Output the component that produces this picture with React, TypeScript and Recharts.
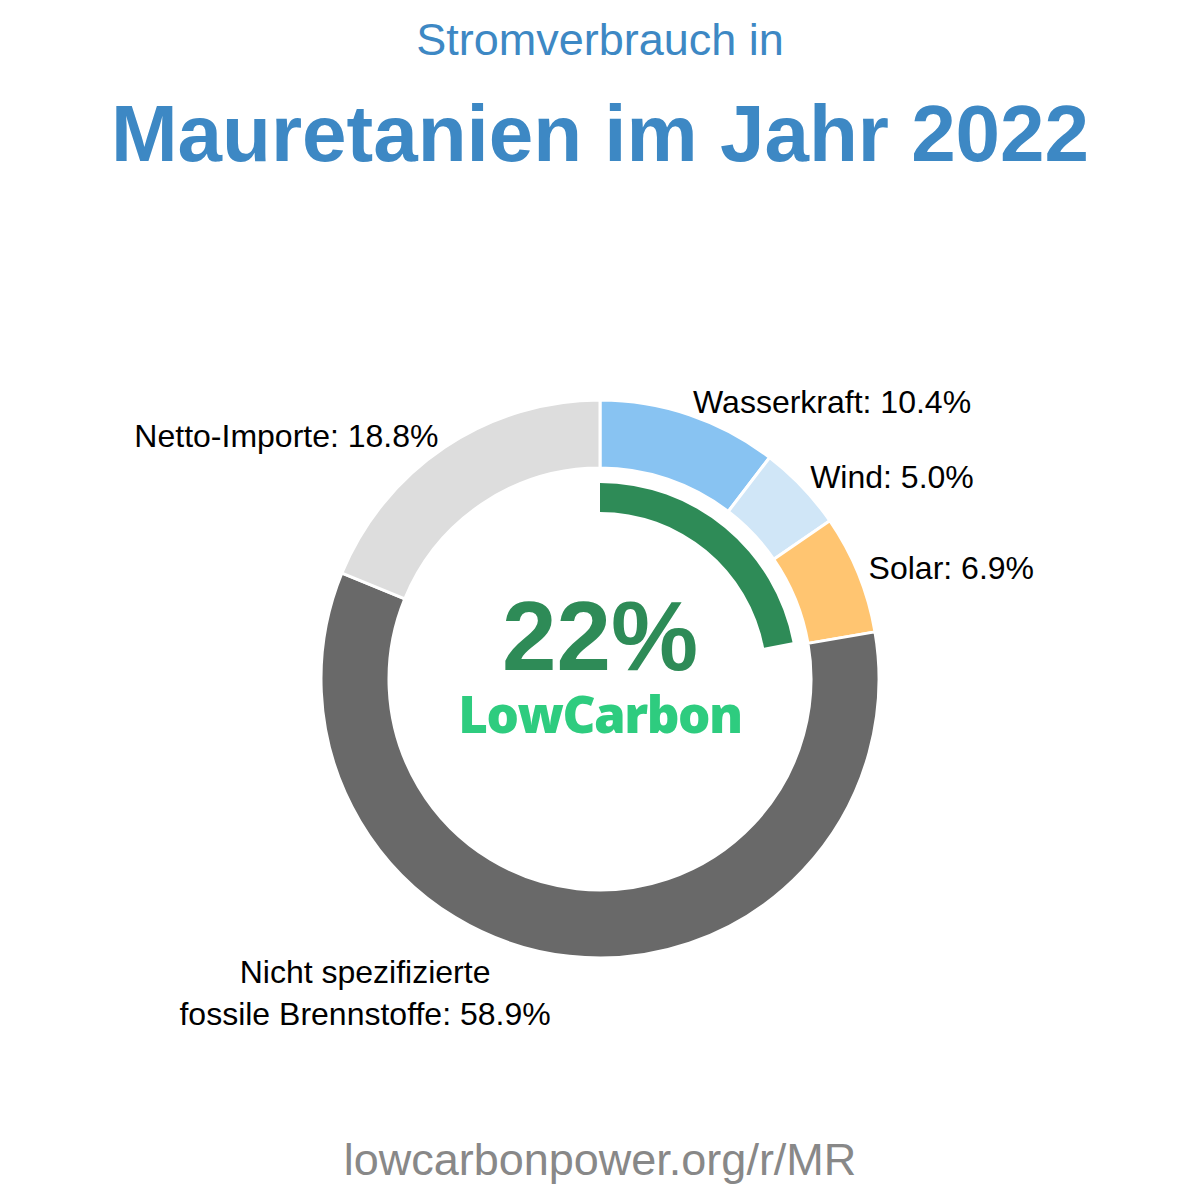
// Stromverbrauch Mauretanien 2022 - Donut mit LowCarbon-Anteil
import { PieChart, Pie, Cell } from 'recharts';

const categories = [
  'Wasserkraft',
  'Wind',
  'Solar',
  'Nicht spezifizierte fossile Brennstoffe',
  'Netto-Importe',
];
const shares = [10.4, 5.0, 6.9, 58.9, 18.8];
const colors = ['#88c3f2', '#d0e6f7', '#ffc571', '#696969', '#dddddd'];
// Zeilenumbruch für lange Beschriftungen
const labelLines = [
  ['Wasserkraft: 10.4%'],
  ['Wind: 5.0%'],
  ['Solar: 6.9%'],
  ['Nicht spezifizierte', 'fossile Brennstoffe: 58.9%'],
  ['Netto-Importe: 18.8%'],
];

const lowCarbonShare = 22;

const data = categories.map((name, i) => ({ name, value: shares[i] }));
const lowCarbonData = [
  { name: 'LowCarbon', value: lowCarbonShare },
  { name: 'Rest', value: 100 - lowCarbonShare },
];

const FONT = '"Liberation Sans", Arial, sans-serif';
const RAD = Math.PI / 180;
const LABEL_SIZE = 32;

function SliceLabel(props: any) {
  const { cx, cy, midAngle, index } = props;
  const r = 290;
  const cos = Math.cos(-midAngle * RAD);
  const sin = Math.sin(-midAngle * RAD);
  const x = cx + r * cos;
  const y = cy + r * sin;
  const lines = labelLines[index];

  if (lines.length > 1) {
    // mehrzeilig: Block rechtsbündig am Ankerpunkt, Zeilen zentriert
    const longest = Math.max(...lines.map((l) => l.length));
    const w = longest * LABEL_SIZE * 0.445;
    const mx = x - w / 2 - 18;
    return (
      <text x={mx} y={y} textAnchor="middle" fontSize={LABEL_SIZE} fontFamily={FONT} fill="#000">
        {lines.map((l, i) => (
          <tspan key={i} x={mx} y={y + 16 + i * 42}>
            {l}
          </tspan>
        ))}
      </text>
    );
  }

  return (
    <text
      x={x}
      y={y - 2}
      textAnchor={cos >= 0 ? 'start' : 'end'}
      dominantBaseline="central"
      fontSize={LABEL_SIZE}
      fontFamily={FONT}
      fill="#000"
    >
      {lines[0]}
    </text>
  );
}

export default function App() {
  return (
    <div style={{ position: 'absolute', left: 0, top: 0, width: 1200, height: 1200, background: '#fff' }}>
      <PieChart width={1200} height={1200} margin={{ top: 0, right: 0, bottom: 0, left: 0 }}>
        <text x={600} y={55} textAnchor="middle" fontSize={45} fontFamily={FONT} fill="#3d88c4">
          Stromverbrauch in
        </text>
        <text x={600} y={161} textAnchor="middle" fontSize={80} fontWeight="bold" fontFamily={FONT} fill="#3d88c4">
          Mauretanien im Jahr 2022
        </text>

        <Pie
          data={data}
          dataKey="value"
          nameKey="name"
          cx={600}
          cy={679}
          innerRadius={211}
          outerRadius={279}
          startAngle={90}
          endAngle={-270}
          stroke="#fff"
          strokeWidth={3}
          label={SliceLabel}
          labelLine={false}
          isAnimationActive={false}
        >
          {data.map((d, i) => (
            <Cell key={d.name} fill={colors[i]} />
          ))}
        </Pie>

        <Pie
          data={lowCarbonData}
          dataKey="value"
          cx={600}
          cy={679}
          innerRadius={167}
          outerRadius={196}
          startAngle={90}
          endAngle={-270}
          stroke="none"
          isAnimationActive={false}
        >
          <Cell fill="#2e8b57" />
          <Cell fill="transparent" />
        </Pie>

        <text x={600} y={670} textAnchor="middle" fontSize={98} fontWeight="bold" fontFamily={FONT} fill="#2e8b57">
          {lowCarbonShare}%
        </text>
        <text x={600} y={733} textAnchor="middle" fontSize={51} fontWeight={800} fontFamily='"Open Sans", sans-serif' fill="#2ecc7f" letterSpacing={-1.5}>
          LowCarbon
        </text>

        <text x={600} y={1175} textAnchor="middle" fontSize={45} fontFamily={FONT} fill="#888888">
          lowcarbonpower.org/r/MR
        </text>
      </PieChart>
    </div>
  );
}
